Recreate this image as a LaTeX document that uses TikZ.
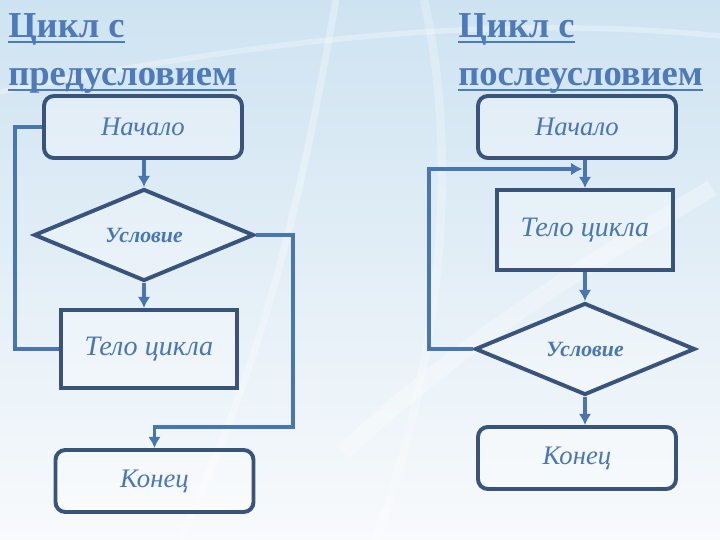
\documentclass[tikz,border=0pt]{standalone}
\usepackage{fontspec}
\setmainfont{Liberation Serif}
\usepackage{xcolor}
\usepackage{tikz}
\usetikzlibrary{calc, shapes.geometric, positioning, arrows.meta}

\definecolor{nenTren}{RGB}{206,227,241}
\definecolor{nenGiua}{RGB}{200,225,242}
\definecolor{nenDuoi}{RGB}{248,250,252}
\definecolor{vienKhoi}{RGB}{56,84,124}
\definecolor{muiTen}{RGB}{72,118,178}
\definecolor{chuXanh}{RGB}{72,118,186}
\definecolor{tieuDe}{RGB}{76,122,186}

\begin{document}
\begin{tikzpicture}[>={Latex[length=8pt,width=9pt]},
    tieude/.style={inner sep=0pt, text=tieuDe, font=\fontsize{26}{30}\selectfont\bfseries},
    gach/.style={tieuDe, line width=2pt},
    hop/.style={draw=vienKhoi, line width=2.8pt, rounded corners=7pt, fill=white, fill opacity=0.3, text opacity=1,
        text=chuXanh, minimum width=4.95cm, minimum height=1.55cm, font=\fontsize{19}{22}\selectfont\itshape},
    khoi/.style={draw=vienKhoi, line width=2.8pt, fill=white, fill opacity=0.3, text opacity=1,
        text=chuXanh, minimum width=4.4cm, minimum height=1.95cm, font=\fontsize{20}{24}\selectfont\itshape},
    thoi/.style={diamond, draw=vienKhoi, line width=2.8pt, inner sep=0pt, fill=white, fill opacity=0.25, text opacity=1,
        text=chuXanh, minimum width=5.5cm, minimum height=2.25cm, font=\fontsize{15.5}{18}\selectfont\bfseries\itshape},
    noi/.style={muiTen, line width=2.6pt}]
    % 1. Nền xanh nhạt và các vệt sáng
    \useasboundingbox (0,0) rectangle (18,13.5);
    \shade[top color=nenTren, middle color=nenGiua, bottom color=nenDuoi] (0,0) rectangle (18,13.5);
    \draw[white, opacity=0.3, line width=12pt] (17.8,8.8) .. controls (14,6.5) and (11,4.5) .. (8.6,2.2);
    \draw[white, opacity=0.3, line width=5pt] (8.4,13.5) .. controls (7.6,9) and (6.8,5) .. (4.5,0);
    \draw[white, opacity=0.3, line width=4pt] (18,12.6) .. controls (12,13.2) and (6,12.4) .. (0,11.2);
    \draw[white, opacity=0.25, line width=6pt] (10.6,13.5) .. controls (11.4,10) and (11.2,5) .. (9.4,0);

    % 2. Tiêu đề hai cột (gạch chân)
    \node[tieude, anchor=base west] (tdTrai1) at (0.2,12.55) {Цикл с};
    \node[tieude, anchor=base west] (tdTrai2) at (0.2,11.35) {предусловием};
    \node[tieude, anchor=base west] (tdPhai1) at (11.45,12.55) {Цикл с};
    \node[tieude, anchor=base west] (tdPhai2) at (11.45,11.35) {послеусловием};
    \foreach \td in {tdTrai1, tdTrai2, tdPhai1, tdPhai2}
        \draw[gach] ($(\td.base west)+(0,-0.1)$) -- ($(\td.base east)+(0,-0.1)$);

    % 3. Cột trái: цикл с предусловием
    \node[hop] (nachaloL) at (3.575,10.325) {Начало};
    \node[thoi] (uslovieL) at (3.6,7.625) {Условие};
    \node[khoi] (teloL) at (3.725,4.775) {Тело цикла};
    \node[hop] (konecL) at (3.8625,1.475) {Конец};
    \coordinate (raL) at (7.325,2.825);

    \draw[noi, ->] (nachaloL.south -| uslovieL.north) -- (uslovieL.north);
    \draw[noi, ->] (uslovieL.south) -- (uslovieL.south |- teloL.north);
    \draw[noi] (teloL.west) -- ++(-1.1,0) |- (nachaloL.west);
    \draw[noi, ->] (uslovieL.east) -| (raL) -| (konecL.north);

    % 4. Cột phải: цикл с послеусловием
    \node[hop] (nachaloR) at (14.425,10.325) {Начало};
    \node[khoi, minimum height=2cm] (teloR) at (14.625,7.75) {Тело цикла};
    \node[thoi] (uslovieR) at (14.625,4.775) {Условие};
    \node[hop] (konecR) at (14.425,2.05) {Конец};
    \coordinate (vaoR) at (14.56,9.275);

    \draw[noi, ->] (teloR.north |- nachaloR.south) -- (teloR.north);
    \draw[noi, ->] (teloR.south) -- (uslovieR.north);
    \draw[noi, ->] (uslovieR.south) -- (uslovieR.south |- konecR.north);
    \draw[noi, ->] (uslovieR.west) -- ++(-1.1,0) |- (vaoR);

\end{tikzpicture}
\end{document}
